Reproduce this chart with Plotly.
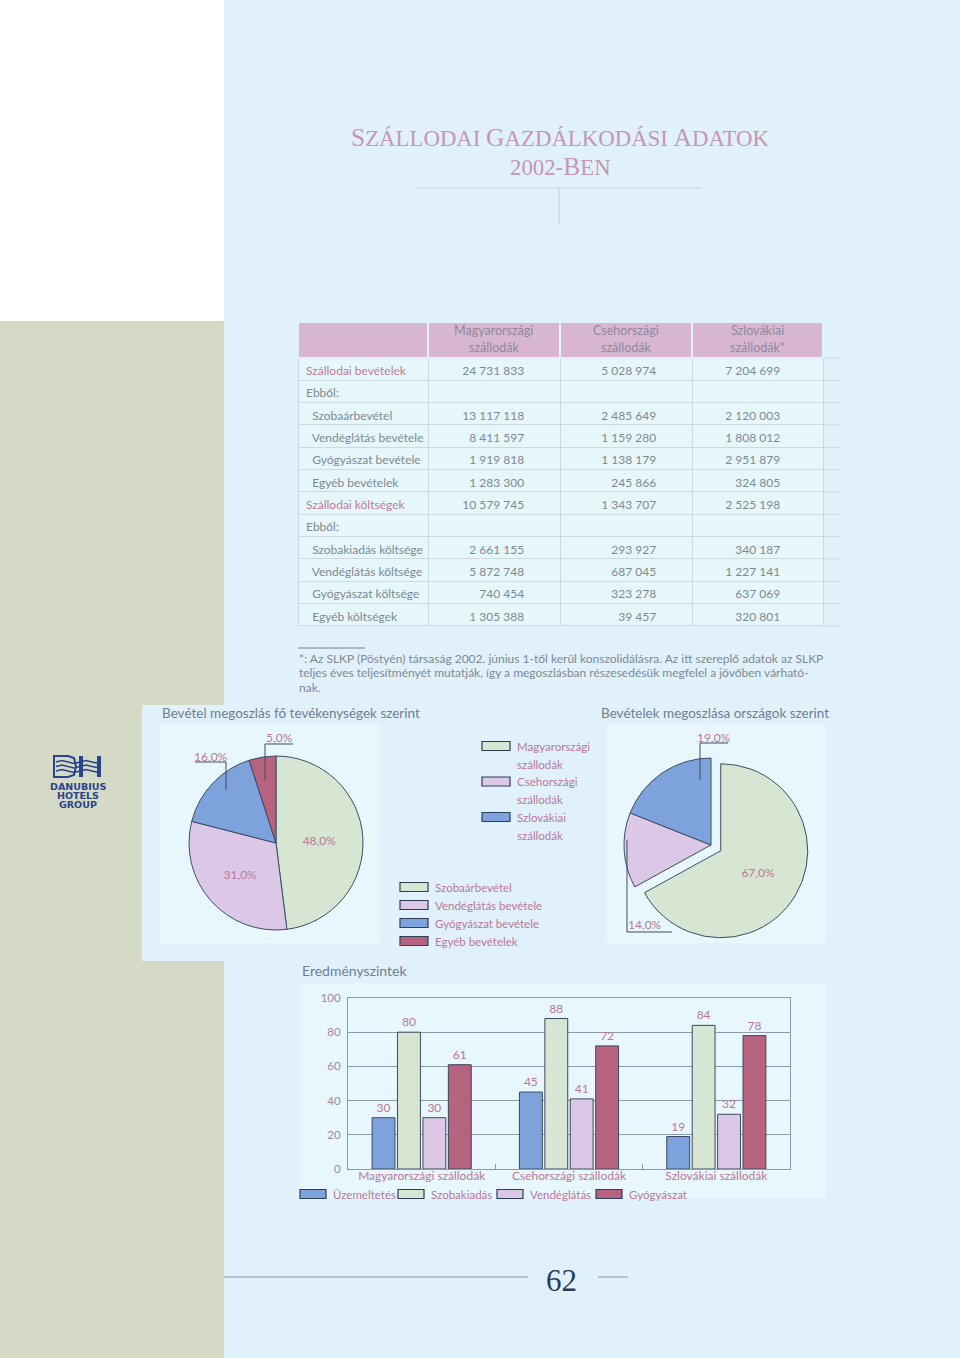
import plotly.graph_objects as go

W, H = 960, 1358

# ---------------- data ----------------
table_headers = ["", "Magyarországi<br>szállodák", "Csehországi<br>szállodák", "Szlovákiai<br>szállodák*"]
row_labels = ["Szállodai bevételek", "Ebből:", "Szobaárbevétel", "Vendéglátás bevétele",
              "Gyógyászat bevétele", "Egyéb bevételek", "Szállodai költségek", "Ebből:",
              "Szobakiadás költsége", "Vendéglátás költsége", "Gyógyászat költsége", "Egyéb költségek"]
row_level = [0, 0, 1, 1, 1, 1, 0, 0, 1, 1, 1, 1]
row_highlight = [True, False, False, False, False, False, True, False, False, False, False, False]
hu_values = ["24 731 833", "", "13 117 118", "8 411 597", "1 919 818", "1 283 300",
             "10 579 745", "", "2 661 155", "5 872 748", "740 454", "1 305 388"]
cz_values = ["5 028 974", "", "2 485 649", "1 159 280", "1 138 179", "245 866",
             "1 343 707", "", "293 927", "687 045", "323 278", "39 457"]
sk_values = ["7 204 699", "", "2 120 003", "1 808 012", "2 951 879", "324 805",
             "2 525 198", "", "340 187", "1 227 141", "637 069", "320 801"]

activity_labels = ["Szobaárbevétel", "Vendéglátás bevétele", "Gyógyászat bevétele", "Egyéb bevételek"]
activity_share = [48.0, 31.0, 16.0, 5.0]

country_labels = ["Magyarországi szállodák", "Csehországi szállodák", "Szlovákiai szállodák"]
country_share = [67.0, 14.0, 19.0]

bar_categories = ["Magyarországi szállodák", "Csehországi szállodák", "Szlovákiai szállodák"]
bar_series = ["Üzemeltetés", "Szobakiadás", "Vendéglátás", "Gyógyászat"]
uzemeltetes = [30, 45, 19]
szobakiadas = [80, 88, 84]
vendeglatas = [30, 41, 32]
gyogyaszat = [61, 72, 78]
y_ticks = [0, 20, 40, 60, 80, 100]

footnote_lines = [
    "*: Az SLKP (Pöstyén) társaság 2002. június 1-től kerül konszolidálásra. Az itt szereplő adatok az SLKP",
    "teljes éves teljesítményét mutatják, így a megoszlásban részesedésük megfelel a jövőben várható-",
    "nak.",
]

# ---------------- style ----------------
PAGE_BLUE = "#e1f1fc"
PANEL_BLUE = "#e8f7fd"
GREY_GREEN = "#d5dac6"
PINK_TXT = "#b87898"
GREY_TXT = "#7e8994"
LINE = "#3c4c64"
GREEN = "#d6e6d3"
LILAC = "#dbc8e6"
BLUE = "#7ea3dc"
ROSE = "#b5637f"
SANS = "Lato"
NB = "\u00a0"

def fx(x):
    return x / W

def fy(y):
    return 1 - y / H

shapes = []
annotations = []

def rect(x0, y0, x1, y1, fill, line_color=None, lw=0, layer="below"):
    shapes.append(dict(type="rect", xref="paper", yref="paper",
                       x0=fx(x0), x1=fx(x1), y0=fy(y1), y1=fy(y0),
                       fillcolor=fill, layer=layer,
                       line=dict(color=line_color or fill, width=lw)))

def seg(x0, y0, x1, y1, color, width=1, layer="above"):
    shapes.append(dict(type="line", xref="paper", yref="paper",
                       x0=fx(x0), x1=fx(x1), y0=fy(y0), y1=fy(y1),
                       layer=layer, line=dict(color=color, width=width)))

def path(points, color, width=1, fill=None, closed=False, layer="above"):
    d = "M" + " L".join(f"{fx(x):.5f},{fy(y):.5f}" for x, y in points)
    if closed:
        d += " Z"
    shapes.append(dict(type="path", xref="paper", yref="paper", path=d, layer=layer,
                       fillcolor=fill if fill else "rgba(0,0,0,0)",
                       line=dict(color=color, width=width)))

def text(x, y, s, size=12, color=GREY_TXT, family=SANS, xanchor="left", yanchor="middle"):
    annotations.append(dict(xref="paper", yref="paper", x=fx(x), y=fy(y), text=s,
                            showarrow=False, xanchor=xanchor, yanchor=yanchor,
                            font=dict(size=size, color=color, family=family)))

def pct(v):
    return f"{v:.1f}%".replace(".", ",")

# ---------------- backgrounds ----------------
rect(0, 0, 224, 321, "#ffffff")
rect(0, 321, 224, H, GREY_GREEN)
rect(142, 705, 224, 961, PAGE_BLUE)
rect(160, 725, 380, 943, PANEL_BLUE)
rect(607, 725, 826, 943, PANEL_BLUE)
rect(300, 983, 826, 1198, PANEL_BLUE)

# ---------------- title ----------------
TITLE_C = "#c597b3"
big = "<span style='font-size:25.5px'>{}</span>"
title1 = big.format("S") + "ZÁLLODAI " + big.format("G") + "AZDÁLKODÁSI " + big.format("A") + "DATOK"
title2 = "2002-" + big.format("B") + "EN"
text(560, 138, title1, size=22.8, color=TITLE_C, family="Liberation Serif", xanchor="center")
text(560, 166, title2, size=22.8, color=TITLE_C, family="Liberation Serif", xanchor="center")
seg(416, 188, 702, 188, "#c9d2de", 1.2)
seg(559, 188, 559, 224, "#c9d2de", 1.2)

# ---------------- table ----------------
FIG = "\u2007"
labels_disp = [(NB * 2 if lvl else "") + lab.replace(" ", NB) for lab, lvl in zip(row_labels, row_level)]
label_colors = ["#c07a9c" if hl else GREY_TXT for hl in row_highlight]
col2 = [v.replace(" ", NB) + FIG * 4 if v else "" for v in hu_values]
col3 = [v.replace(" ", NB) + FIG * 4 if v else "" for v in cz_values]
col4 = [v.replace(" ", NB) + FIG * 5 if v else "" for v in sk_values]
n = len(row_labels)
col_widths = [130, 132, 132, 131]
ROW_H = 22.33

table = go.Table(
    domain=dict(x=[fx(298), fx(823)], y=[fy(640), fy(322)]),
    columnwidth=col_widths,
    header=dict(values=[""] * len(table_headers), fill_color="#d8b6d1", height=36,
                line=dict(color=PAGE_BLUE, width=2), align="center",
                font=dict(family=SANS, size=12.5, color="#8c8a9c")),
    cells=dict(values=[labels_disp, col2, col3, col4],
               fill_color="#e6f7fb", height=ROW_H,
               line=dict(color="#cdd8df", width=1),
               align=["left", "right", "right", "right"],
               font=dict(family=SANS, size=12,
                         color=[label_colors, [GREY_TXT] * n, [GREY_TXT] * n, [GREY_TXT] * n])),
)
# header texts (two lines each, centred on their columns)
x_left = 298
for hdr, wcol in zip(table_headers, col_widths):
    if hdr:
        l1, l2 = hdr.split("<br>")
        xc = x_left + wcol / 2
        text(xc, 330, l1, size=12.5, color="#8c8a9c", xanchor="center")
        text(xc, 348, l2, size=12.5, color="#8c8a9c", xanchor="center")
    x_left += wcol
# row rules run a little past the table on the right
for k in range(n + 1):
    yk = 358 + k * ROW_H
    seg(823, yk, 840, yk, "#cdd8df", 1)

# footnote
seg(298, 648, 365, 648, "#6f7f90", 1)
for i, line in enumerate(footnote_lines):
    text(297, 658 + i * 14.5, line, size=12, color=GREY_TXT)

# ---------------- pies ----------------
text(160, 713, "Bevétel megoszlás fő tevékenységek szerint", size=13.5, color="#6f7f8f")
text(599, 713, "Bevételek megoszlása országok szerint", size=13.5, color="#6f7f8f")

pie1 = go.Pie(
    labels=activity_labels, values=activity_share, sort=False, direction="clockwise", rotation=0,
    marker=dict(colors=[GREEN, LILAC, BLUE, ROSE], line=dict(color=LINE, width=1)),
    text=[pct(v) for v in activity_share], textinfo="text",
    textposition=["inside", "inside", "none", "none"], insidetextorientation="horizontal",
    textfont=dict(family=SANS, size=12, color=PINK_TXT),
    domain=dict(x=[fx(189), fx(363)], y=[fy(930), fy(756)]),
    showlegend=False, hoverinfo="skip",
)

pull = 0.13
r2 = 87
cx2, cy2 = 711, 845
half2 = r2 * (1 + pull)
pie2 = go.Pie(
    labels=country_labels, values=country_share, sort=False, direction="clockwise", rotation=0,
    pull=[pull, 0, 0],
    marker=dict(colors=[GREEN, LILAC, BLUE], line=dict(color=LINE, width=1)),
    text=[pct(v) for v in country_share], textinfo="text",
    textposition=["inside", "none", "none"], insidetextorientation="horizontal",
    textfont=dict(family=SANS, size=12, color=PINK_TXT),
    domain=dict(x=[fx(cx2 - half2), fx(cx2 + half2)], y=[fy(cy2 + half2), fy(cy2 - half2)]),
    showlegend=False, hoverinfo="skip",
)

# outside labels with leader lines
text(279, 737, pct(activity_share[3]), size=12, color=PINK_TXT, xanchor="center")
path([(293, 744), (265, 744), (265, 780)], LINE, 1)
text(211, 756, pct(activity_share[2]), size=12, color=PINK_TXT, xanchor="center")
path([(195, 762), (226, 762), (226, 790)], LINE, 1)
text(714, 737, pct(country_share[2]), size=12, color=PINK_TXT, xanchor="center")
path([(728, 743), (700, 743), (700, 780)], LINE, 1)
text(645, 924, pct(country_share[1]), size=12, color=PINK_TXT, xanchor="center")
path([(627, 840), (627, 932), (672, 932)], LINE, 1)

# manual legends
SW_LINE = "#2c3e5a"
for i, (lab, col) in enumerate(zip(activity_labels, [GREEN, LILAC, BLUE, ROSE])):
    yc = 887 + i * 18
    rect(400, yc - 4.5, 428, yc + 4.5, col, SW_LINE, 1.2, layer="above")
    text(433, yc, lab, size=11.5, color=PINK_TXT)

country_cols = {country_labels[0]: GREEN, country_labels[1]: LILAC, country_labels[2]: BLUE}
for i, lab in enumerate(country_labels):
    yc = 746 + i * 35.5
    rect(482, yc - 4.5, 510, yc + 4.5, country_cols[lab], SW_LINE, 1.2, layer="above")
    w1, w2 = lab.split(" ", 1)
    text(515, yc, w1, size=11.5, color=PINK_TXT)
    text(515, yc + 18, w2, size=11.5, color=PINK_TXT)

# ---------------- bar chart ----------------
text(300, 970, "Eredményszintek", size=14, color="#6f7f8f")
bar_colors = [BLUE, GREEN, LILAC, ROSE]
bar_data = [uzemeltetes, szobakiadas, vendeglatas, gyogyaszat]
bars = []
for name, vals, col in zip(bar_series, bar_data, bar_colors):
    bars.append(go.Bar(
        x=bar_categories, y=vals, name=name,
        marker=dict(color=col, line=dict(color="#3a4a5e", width=1)),
        text=[str(v) for v in vals], textposition="outside", cliponaxis=False,
        textfont=dict(family=SANS, size=12, color=PINK_TXT),
        showlegend=False, hoverinfo="skip",
    ))

x_legend = [300, 398, 497, 596]
for xl, name, col in zip(x_legend, bar_series, bar_colors):
    rect(xl, 1189.5, xl + 26, 1198.5, col, SW_LINE, 1.2, layer="above")
    text(xl + 31, 1194, name, size=11.5, color=PINK_TXT)

# page number
text(561, 1280, "62", size=31, color="#2a3b5c", family="Liberation Serif", xanchor="center")
seg(224, 1277, 528, 1277, "#8797a8", 1)
seg(598, 1277, 628, 1277, "#8797a8", 1)

# logo
NAVY = "#27458a"
path([(54, 756), (68, 756), (74, 758), (76, 766.5), (74, 775), (68, 777), (54, 777)], NAVY, 2, closed=True)
rect(79, 756, 83, 777, NAVY, NAVY, 0, layer="above")
rect(97, 756, 101, 777, NAVY, NAVY, 0, layer="above")
for yy in (762, 766.5, 771):
    path([(56, yy), (62, yy - 1.5), (68, yy), (74, yy + 1.5), (80, yy), (86, yy - 1.5),
          (92, yy), (99, yy + 1.5)], NAVY, 1.4)
text(78, 786, "DANUBIUS", size=9.5, color=NAVY, family="DejaVu Sans", xanchor="center")
text(78, 795, "HOTELS", size=9.5, color=NAVY, family="DejaVu Sans", xanchor="center")
text(78, 804, "GROUP", size=9.5, color=NAVY, family="DejaVu Sans", xanchor="center")
for a in annotations[-3:]:
    a["font"]["weight"] = "bold"

fig = go.Figure(data=[table, pie1, pie2] + bars)
AX = "#8a9bab"
fig.update_layout(
    width=W, height=H, margin=dict(l=0, r=0, t=0, b=0, pad=0, autoexpand=False),
    paper_bgcolor=PAGE_BLUE, plot_bgcolor="rgba(0,0,0,0)",
    barmode="group", bargap=0.31, bargroupgap=0.1,
    shapes=shapes, annotations=annotations,
    xaxis=dict(domain=[fx(348), fx(790)], showline=True, linecolor=AX, linewidth=1, mirror=True,
               ticks="inside", tickson="boundaries", ticklen=5, tickcolor=AX, automargin=False,
               ticklabelstandoff=-4,
               tickfont=dict(family=SANS, size=12, color=PINK_TXT), showgrid=False, fixedrange=True),
    yaxis=dict(domain=[fy(1169), fy(998)], range=[0, 100], tickvals=y_ticks, automargin=False,
               showline=True, linecolor=AX, linewidth=1, mirror=True, ticklabelstandoff=4,
               showgrid=True, gridcolor=AX, gridwidth=1, zeroline=False,
               tickfont=dict(family=SANS, size=11.5, color="#9a8a9a"), fixedrange=True),
    font=dict(family=SANS),
)
fig.write_html("out.html")
